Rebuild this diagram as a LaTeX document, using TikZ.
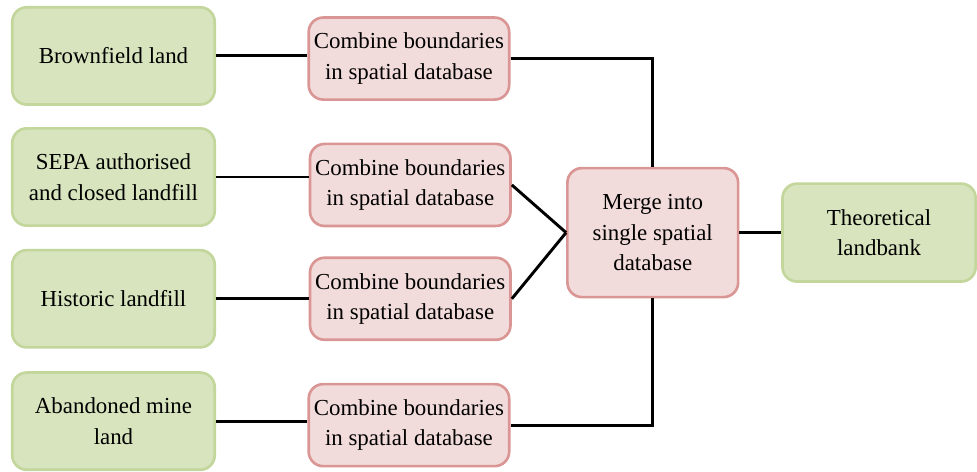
\documentclass[tikz,border=0pt]{standalone}
\usepackage{fontspec}
\setmainfont{Liberation Serif}[Ligatures=TeX]
\usetikzlibrary{
  positioning,
  calc
}
\definecolor{srcfill}{HTML}{D7E4BD}
\definecolor{srcline}{HTML}{C3D69B}
\definecolor{stepfill}{HTML}{F2DCDB}
\definecolor{stepline}{HTML}{D99694}
\tikzset{
  box/.style={draw, align=center, rounded corners=11pt, line width=2pt, inner sep=2pt},
  srcbox/.style={box, fill=srcfill, draw=srcline, minimum width=153pt, minimum height=73.5pt},
  stepbox/.style={box, fill=stepfill, draw=stepline, minimum width=151.5pt, minimum height=62pt},
  link/.style={line width=2.2pt},
}

\begin{document}
\begin{tikzpicture}
      \rmfamily\fontsize{17.3}{23}\selectfont
      \node (brown) [srcbox] {Brownfield land};
      \node (sepa) [srcbox, below = 16pt of brown] {
        SEPA authorised \\
        and closed landfill
      };
      \node (hist) [srcbox, below = 16.5pt of sepa] {Historic landfill};
      \node (mine) [srcbox, below = 17pt of hist] {
        Abandoned mine \\
        land
      };

      \node (comb1) [stepbox, right = 69pt of brown, yshift=-2pt] {
        Combine boundaries \\
        in spatial database
      };
      \node (comb2) [stepbox, right = 70pt of sepa, yshift=-6pt] {
        Combine boundaries \\
        in spatial database
      };
      \node (comb3) [stepbox, right = 70pt of hist] {
        Combine boundaries \\
        in spatial database
      };
      \node (comb4) [stepbox, right = 69pt of mine, yshift=-3pt] {
        Combine boundaries \\
        in spatial database
      };

      \node (merge) [box, fill=stepfill, draw=stepline, minimum width=129pt, minimum height=97.5pt,
        right = 41pt of $(comb2.east)!0.5!(comb3.east)$, yshift=7pt] {
        Merge into \\
        single spatial \\
        database
      };
      \node (bank) [srcbox, minimum width=146pt, minimum height=74pt, right = 31.5pt of merge] {
        Theoretical \\
        landbank
      };

      \draw[link] (brown) -- (brown -| comb1.west);
      \draw[link] (sepa) -- (sepa -| comb2.west);
      \draw[link] (hist) -- (hist -| comb3.west);
      \draw[link] (mine) -- (mine -| comb4.west);
      \draw[link] (comb1.east) -| (merge.north);
      \draw[link] (comb2.east) -- (merge.west);
      \draw[link] (comb3.east) -- (merge.west);
      \draw[link] (merge.south) |- (comb4.east);
      \draw[link] (merge) -- (bank);

      \useasboundingbox ($(brown.north west)+(-8.25pt,4.5pt)$) rectangle ++(732.75pt,-352.5pt);
    \end{tikzpicture}
\end{document}
